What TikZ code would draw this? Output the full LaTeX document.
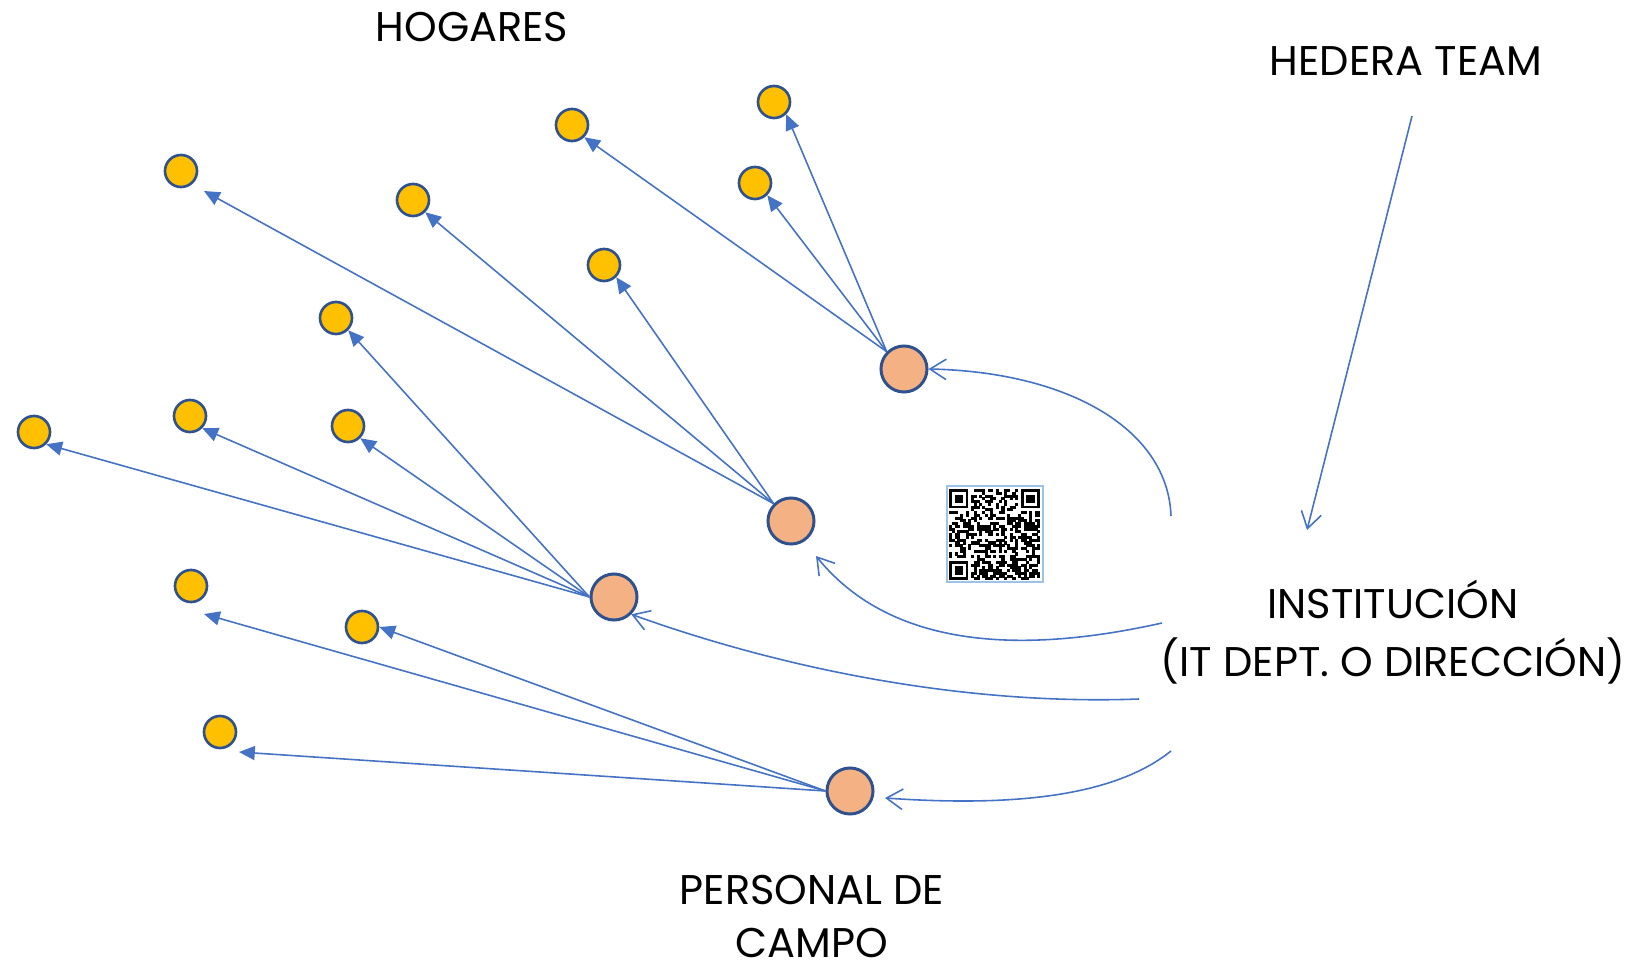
\documentclass[tikz,border=0pt]{standalone}
\usepackage{fontspec}
\setmainfont{Poppins}
\usetikzlibrary{arrows.meta}

\definecolor{linea}{HTML}{4472C4}
\definecolor{borde}{HTML}{2F528F}
\definecolor{naranja}{HTML}{F4B183}
\definecolor{amarillo}{HTML}{FFC000}
\definecolor{marco}{HTML}{9DC3E6}

\begin{document}
\begin{tikzpicture}[x=0.01cm, y=-0.01cm,
    hogar/.style={circle, draw=borde, line width=0.75pt, fill=amarillo, minimum size=0.32cm, inner sep=0pt},
    personal/.style={circle, draw=borde, line width=0.85pt, fill=naranja, minimum size=0.46cm, inner sep=0pt},
    flecha/.style={draw=linea, line width=0.45pt, -{Triangle[length=4.5pt, width=4pt]}},
    enlace/.style={draw=linea, line width=0.45pt, -{Straight Barb[length=4.6pt, width=5.8pt]}},
    rotulo/.style={font=\fontsize{11.8}{16.5}\selectfont, align=center, inner sep=0pt}]
    \useasboundingbox (0,0) rectangle (1645,973);

    % personal de campo
    \node[personal] (A) at (904,369) {};
    \node[personal] (B) at (791,521) {};
    \node[personal] (C) at (614,597) {};
    \node[personal] (D) at (850,791) {};

    % hogares
    \node[hogar] (h1) at (774,102) {};
    \node[hogar] (h2) at (572,125) {};
    \node[hogar] (h3) at (755,183) {};
    \node[hogar] (h4) at (181,171) {};
    \node[hogar] (h5) at (413,200) {};
    \node[hogar] (h6) at (604,265) {};
    \node[hogar] (h7) at (336,318) {};
    \node[hogar] (h8) at (34,432) {};
    \node[hogar] (h9) at (190,416) {};
    \node[hogar] (h10) at (348,426) {};
    \node[hogar] (h11) at (191,586) {};
    \node[hogar] (h12) at (362,627) {};
    \node[hogar] (h13) at (220,732) {};

    % extremos sueltos
    \coordinate (p4) at (204,191);
    \coordinate (p11) at (204,614);
    \coordinate (p13) at (239,752);
    \coordinate (pB) at (816,556);
    \coordinate (pD) at (885,798);

    \foreach \h in {h1,h2,h3}
        \draw[flecha] (A.north west) -- (\h.south east);
    \draw[flecha] (B.north west) -- (p4);
    \foreach \h in {h5,h6}
        \draw[flecha] (B.north west) -- (\h.south east);
    \foreach \h in {h7,h8,h9,h10}
        \draw[flecha] (C.west) -- (\h.south east);
    \draw[flecha] (D.west) -- (p11);
    \draw[flecha] (D.west) -- (h12.east);
    \draw[flecha] (D.west) -- (p13);

    % textos
    \node[rotulo] (hogares) at (472,27) {HOGARES};
    \node[rotulo] (hedera) at (1406,61) {HEDERA TEAM};
    \node[rotulo] (inst) at (1393,632) {INSTITUCIÓN\\(IT DEPT. O DIRECCIÓN)};
    \node[rotulo] (campo) at (812,890) {PERSONAL DE};
    \node[rotulo] (campo2) at (812,943) {CAMPO};

    \coordinate (i1) at (1171,516);
    \coordinate (i2) at (1162,623);
    \coordinate (i3) at (1139,699);
    \coordinate (i4) at (1171,751);
    \coordinate (t0) at (1412,116);
    \coordinate (t1) at (1307,530);

    \draw[enlace] (t0) -- (t1);
    \draw[enlace] (i1) .. controls (1168,430) and (1070,372) .. (A.east);
    \draw[enlace] (i2) .. controls (1050,648) and (900,660) .. (pB);
    \draw[enlace] (i3) .. controls (980,705) and (800,675) .. (C.south east);
    \draw[enlace] (i4) .. controls (1110,800) and (1000,806) .. (pD);

    % codigo QR
    \draw[marco, line width=0.5pt] (947,486) rectangle (1043,582);
    \begin{scope}[shift={(949,489)}]
        \pgfmathsetseed{4711}
        \def\m{2.76}
        \foreach \i in {0,...,32}
            \foreach \j in {0,...,32} {
                \pgfmathtruncatemacro\fuera{((\i<8 && \j<8) || (\i>24 && \j<8) || (\i<8 && \j>24)) ? 0 : 1}
                \pgfmathtruncatemacro\on{rnd<0.52 ? 1 : 0}
                \ifnum\fuera\on=11
                    \fill[black] (\i*\m,\j*\m) rectangle +(\m+0.3,\m+0.3);
                \fi
            }
        \foreach \a/\b in {0/0, 26/0, 0/26} {
            \fill[black] (\a*\m,\b*\m) rectangle +(7*\m,7*\m);
            \fill[white] (\a*\m+\m,\b*\m+\m) rectangle +(5*\m,5*\m);
            \fill[black] (\a*\m+2*\m,\b*\m+2*\m) rectangle +(3*\m,3*\m);
        }
    \end{scope}
\end{tikzpicture}
\end{document}
